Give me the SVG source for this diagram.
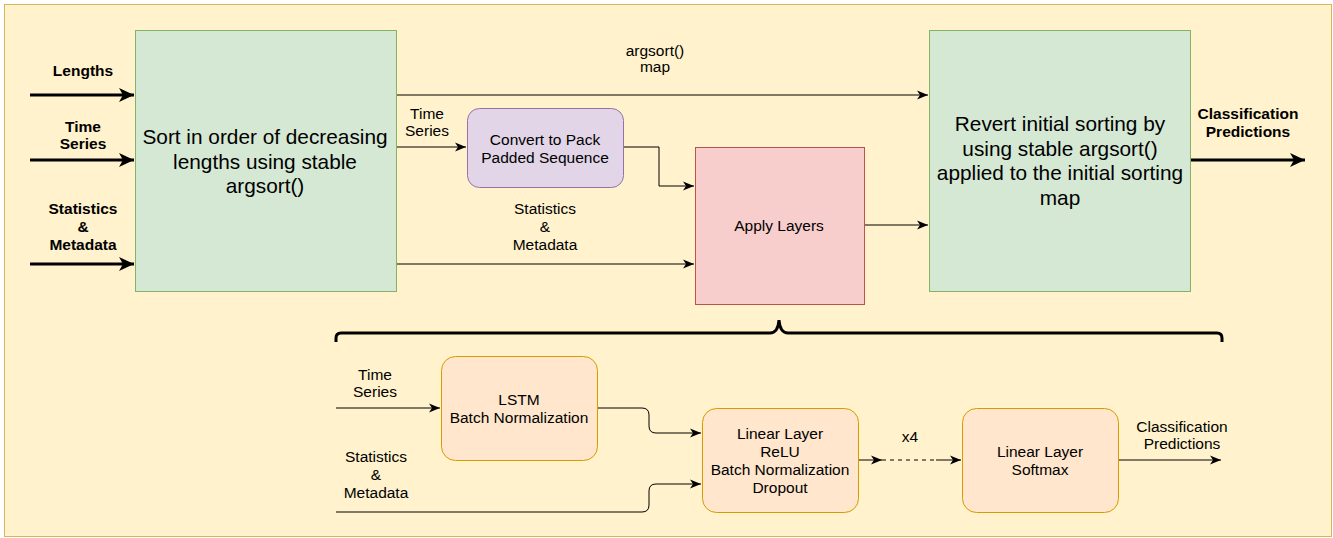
<svg xmlns="http://www.w3.org/2000/svg" width="1333" height="538" viewBox="0 0 1333 538">
<defs>
<style>
text{font-family:"Liberation Sans",Arial,sans-serif;fill:#000;text-anchor:middle}
.s{font-size:15.5px}
.b{font-size:15.5px;font-weight:bold}
.l{font-size:20.8px}
.c{fill:none;stroke:#000;stroke-width:1}
.t{fill:none;stroke:#000;stroke-width:3}
.green{fill:#D5E8D4;stroke:#82B366}
.or{fill:#FFE6CC;stroke:#D79B00}
</style>
<marker id="a" markerUnits="userSpaceOnUse" markerWidth="12" markerHeight="10" refX="11" refY="5" orient="auto">
<path d="M0,0.5 L11,5 L0,9.5 L3,5 z" fill="#000"/>
</marker>
<marker id="ab" markerUnits="userSpaceOnUse" markerWidth="16" markerHeight="16" refX="15" refY="8" orient="auto">
<path d="M0,1 L15,8 L0,15 L4,8 z" fill="#000"/>
</marker>
</defs>
<rect x="4.5" y="4.5" width="1327" height="532" fill="#FFF2CC" stroke="#D6B656"/>

<g id="connectors">
<line class="t" x1="30" y1="95" x2="134" y2="95" marker-end="url(#ab)"/>
<line class="t" x1="30" y1="160" x2="134" y2="160" marker-end="url(#ab)"/>
<line class="t" x1="30" y1="264" x2="134" y2="264" marker-end="url(#ab)"/>
<line class="c" x1="396" y1="95" x2="928" y2="95" marker-end="url(#a)"/>
<line class="c" x1="396" y1="147" x2="466" y2="147" marker-end="url(#a)"/>
<polyline class="c" points="623,147 659,147 659,186 694,186" marker-end="url(#a)"/>
<line class="c" x1="396" y1="264" x2="694" y2="264" marker-end="url(#a)"/>
<line class="c" x1="864" y1="225" x2="928" y2="225" marker-end="url(#a)"/>
<line class="t" x1="1190" y1="160" x2="1305" y2="160" marker-end="url(#ab)"/>
<path d="M336,342 L336,338 Q336,333 341,333 L770,333 Q778,333 779,320 Q780,333 788,333 L1217,333 Q1222,333 1222,338 L1222,342" fill="none" stroke="#000" stroke-width="3"/>
<line class="c" x1="336" y1="408" x2="440" y2="408" marker-end="url(#a)"/>
<path class="c" d="M597,408 L642,408 Q649,408 649,415 L649,426 Q649,433 656,433 L701,433" marker-end="url(#a)"/>
<path class="c" d="M336,512 L642,512 Q649,512 649,505 L649,491 Q649,484 656,484 L701,484" marker-end="url(#a)"/>
<line class="c" x1="858" y1="460" x2="882" y2="460" marker-end="url(#a)"/>
<line class="c" x1="882" y1="460" x2="936" y2="460" stroke-dasharray="4,4"/>
<line class="c" x1="936" y1="460" x2="961" y2="460" marker-end="url(#a)"/>
<line class="c" x1="1118" y1="460" x2="1221" y2="460" marker-end="url(#a)"/>
</g>

<g id="labels">
<text class="b" x="83" y="76">Lengths</text>
<text class="b" x="83" y="132">Time</text>
<text class="b" x="83" y="149">Series</text>
<text class="b" x="83" y="214">Statistics</text>
<text class="b" x="83" y="232">&amp;</text>
<text class="b" x="83" y="250">Metadata</text>
<text class="s" x="655" y="56">argsort()</text>
<text class="s" x="655" y="72">map</text>
<text class="s" x="427" y="119">Time</text>
<text class="s" x="427" y="136">Series</text>
<text class="s" x="545" y="214">Statistics</text>
<text class="s" x="545" y="232">&amp;</text>
<text class="s" x="545" y="250">Metadata</text>
<text class="b" x="1248" y="119">Classification</text>
<text class="b" x="1248" y="137">Predictions</text>
<text class="s" x="375" y="380">Time</text>
<text class="s" x="375" y="397">Series</text>
<text class="s" x="376" y="462">Statistics</text>
<text class="s" x="376" y="480">&amp;</text>
<text class="s" x="376" y="498">Metadata</text>
<text class="s" x="910" y="442">x4</text>
<text class="s" x="1182" y="432">Classification</text>
<text class="s" x="1182" y="449">Predictions</text>
</g>

<g id="sort">
<rect class="green" x="135.5" y="30.5" width="261" height="261"/>
<text class="l" x="265" y="144">Sort in order of decreasing</text>
<text class="l" x="265" y="169">lengths using stable</text>
<text class="l" x="265" y="193">argsort()</text>
</g>

<g id="convert">
<rect x="467.5" y="108.5" width="156" height="79" rx="12" fill="#E1D5E7" stroke="#9673A6"/>
<text class="s" x="545" y="145">Convert to Pack</text>
<text class="s" x="545" y="163">Padded Sequence</text>
</g>

<g id="apply">
<rect x="695.5" y="147.5" width="169" height="157" fill="#F8CECC" stroke="#B85450"/>
<text class="s" x="779" y="231">Apply Layers</text>
</g>

<g id="revert">
<rect class="green" x="929.5" y="30.5" width="261" height="261"/>
<text class="l" x="1060" y="131">Revert initial sorting by</text>
<text class="l" x="1060" y="156">using stable argsort()</text>
<text class="l" x="1060" y="180">applied to the initial sorting</text>
<text class="l" x="1060" y="205">map</text>
</g>

<g id="lstm">
<rect class="or" x="441.5" y="356.5" width="156" height="104" rx="14"/>
<text class="s" x="519" y="405">LSTM</text>
<text class="s" x="519" y="423">Batch Normalization</text>
</g>

<g id="linear">
<rect class="or" x="702.5" y="408.5" width="156" height="104" rx="14"/>
<text class="s" x="780" y="439">Linear Layer</text>
<text class="s" x="780" y="457">ReLU</text>
<text class="s" x="780" y="475">Batch Normalization</text>
<text class="s" x="780" y="493">Dropout</text>
</g>

<g id="softmax">
<rect class="or" x="962.5" y="408.5" width="156" height="104" rx="14"/>
<text class="s" x="1040" y="457">Linear Layer</text>
<text class="s" x="1040" y="475">Softmax</text>
</g>
</svg>
